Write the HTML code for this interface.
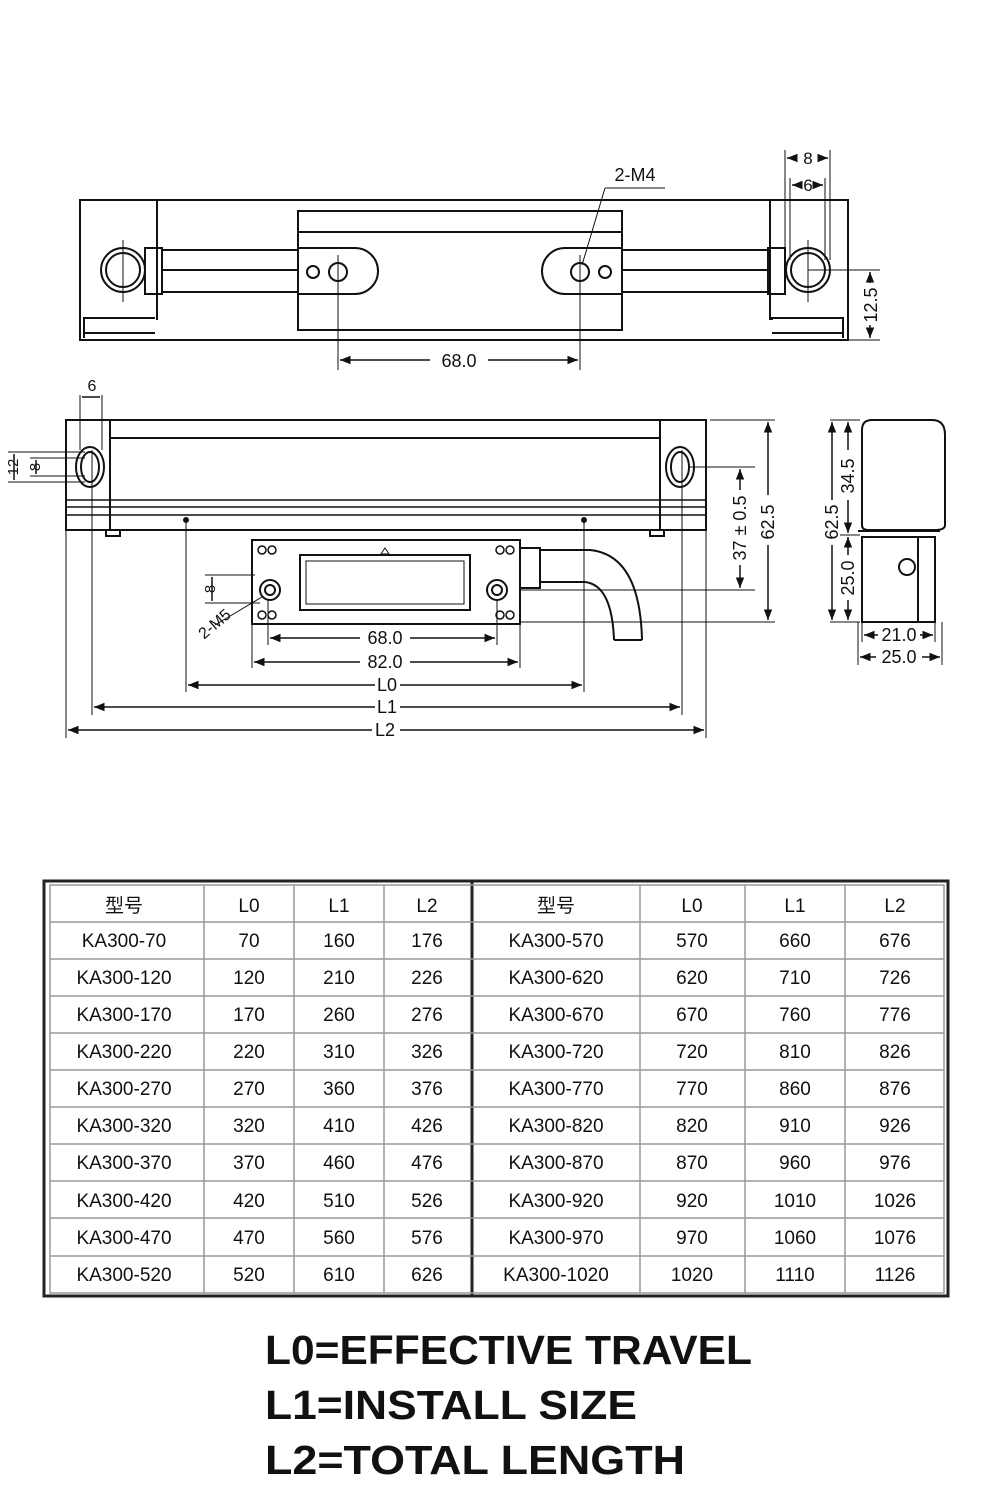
<!DOCTYPE html>
<html><head><meta charset="utf-8"><style>
html,body{margin:0;padding:0;background:#fff;}
svg{display:block;}
text{font-family:"Liberation Sans","Noto Sans CJK SC",sans-serif;fill:#111;}
</style></head><body>
<svg width="1000" height="1500" viewBox="0 0 1000 1500" xmlns="http://www.w3.org/2000/svg">
<defs>
<marker id="a" viewBox="0 0 10 10" refX="10" refY="5" markerWidth="7" markerHeight="7" orient="auto-start-reverse"><path d="M0,1 L10,5 L0,9 z" fill="#111"/></marker>
</defs>
<g stroke="#111" fill="none" stroke-width="2">
<!-- TOP VIEW -->
<rect x="80" y="200" width="768" height="140"/>
<line x1="157" y1="200" x2="157" y2="320"/>
<line x1="770" y1="200" x2="770" y2="320"/>
<path d="M84 338 V318 H155 M85 333 H155"/>
<path d="M772 320 V318 H843 V338 M772 333 H843"/>
<rect x="298" y="211" width="324" height="119"/>
<line x1="298" y1="232" x2="622" y2="232"/>
<rect x="145" y="248" width="17" height="46"/>
<rect x="768" y="248" width="17" height="46"/>
<path d="M162 250 H298 M162 270 H298 M162 292 H298"/>
<path d="M622 250 H768 M622 270 H768 M622 292 H768"/>
<path d="M298 248 H355 A22 22 0 0 1 355 294 H298"/>
<path d="M622 248 H565 A22 22 0 0 0 565 294 H622"/>
<circle cx="123" cy="270" r="22"/><circle cx="123" cy="270" r="17"/>
<circle cx="808" cy="270" r="22"/><circle cx="808" cy="270" r="17"/>
<circle cx="313" cy="272" r="6"/><circle cx="338" cy="272" r="9"/>
<circle cx="580" cy="272" r="9"/><circle cx="605" cy="272" r="6"/>
<g stroke-width="1"><line x1="338" y1="255" x2="338" y2="370"/><line x1="580" y1="255" x2="580" y2="370"/>
<line x1="123" y1="240" x2="123" y2="302"/><line x1="808" y1="240" x2="808" y2="302"/>
<line x1="808" y1="270" x2="880" y2="270"/><line x1="848" y1="340" x2="880" y2="340"/>
<line x1="785" y1="150" x2="785" y2="260"/><line x1="830" y1="150" x2="830" y2="260"/><line x1="790" y1="178" x2="790" y2="260"/><line x1="825" y1="178" x2="825" y2="260"/>
<line x1="582" y1="265" x2="605" y2="188"/><line x1="605" y1="188" x2="665" y2="188"/></g>
<g stroke-width="1.5">
<line x1="340" y1="360" x2="430" y2="360" marker-start="url(#a)"/><line x1="488" y1="360" x2="578" y2="360" marker-end="url(#a)"/>
<line x1="870" y1="272" x2="870" y2="283" marker-start="url(#a)"/><line x1="870" y1="325" x2="870" y2="338" marker-end="url(#a)"/>
<line x1="787" y1="158" x2="797" y2="158" marker-start="url(#a)"/><line x1="818" y1="158" x2="828" y2="158" marker-end="url(#a)"/>
<line x1="792" y1="185" x2="798" y2="185" marker-start="url(#a)"/><line x1="815" y1="185" x2="823" y2="185" marker-end="url(#a)"/>
</g>
<!-- FRONT VIEW -->
<rect x="66" y="420" width="640" height="110"/>
<line x1="110" y1="420" x2="110" y2="530"/><line x1="660" y1="420" x2="660" y2="530"/>
<line x1="110" y1="438" x2="660" y2="438"/>
<path d="M66 500 H706 M66 507 H706 M66 515 H706" stroke-width="1.5"/>
<ellipse cx="90" cy="467" rx="14" ry="20"/><ellipse cx="90" cy="467" rx="9" ry="15"/>
<ellipse cx="680" cy="467" rx="14" ry="20"/><ellipse cx="680" cy="467" rx="9" ry="15"/>
<rect x="106" y="530" width="14" height="6"/><rect x="650" y="530" width="14" height="6"/>
<rect x="252" y="540" width="268" height="84"/>
<rect x="300" y="555" width="170" height="55"/><rect x="306" y="561" width="158" height="43" stroke-width="1"/>
<circle cx="270" cy="590" r="10"/><circle cx="270" cy="590" r="5"/>
<circle cx="497" cy="590" r="10"/><circle cx="497" cy="590" r="5"/>
<g stroke-width="1.5"><circle cx="262" cy="550" r="4"/><circle cx="272" cy="550" r="4"/><circle cx="500" cy="550" r="4"/><circle cx="510" cy="550" r="4"/>
<circle cx="262" cy="615" r="4"/><circle cx="272" cy="615" r="4"/><circle cx="500" cy="615" r="4"/><circle cx="510" cy="615" r="4"/></g>
<path d="M385 548 L381 554 H389 Z" stroke-width="1"/>
<rect x="520" y="548" width="20" height="40"/>
<path d="M540 550 H590 Q640 555 642 640 M540 582 H585 Q612 585 614 640 M614 640 H642"/>
<circle cx="186" cy="520" r="2" fill="#111"/><circle cx="584" cy="520" r="2" fill="#111"/>
<g stroke-width="1">
<line x1="186" y1="520" x2="186" y2="692"/><line x1="584" y1="520" x2="584" y2="692"/>
<line x1="92" y1="450" x2="92" y2="715"/><line x1="682" y1="450" x2="682" y2="715"/>
<line x1="66" y1="530" x2="66" y2="738"/><line x1="706" y1="530" x2="706" y2="738"/>
<line x1="268" y1="600" x2="268" y2="645"/><line x1="497" y1="600" x2="497" y2="645"/>
<line x1="252" y1="624" x2="252" y2="668"/><line x1="520" y1="624" x2="520" y2="668"/>
<line x1="710" y1="420" x2="775" y2="420"/><line x1="520" y1="622" x2="775" y2="622"/>
<line x1="690" y1="467" x2="755" y2="467"/><line x1="520" y1="590" x2="755" y2="590"/>
<line x1="80" y1="395" x2="80" y2="450"/><line x1="102" y1="395" x2="102" y2="450"/>
<line x1="8" y1="452" x2="85" y2="452"/><line x1="8" y1="482" x2="85" y2="482"/><line x1="30" y1="458" x2="85" y2="458"/><line x1="30" y1="476" x2="85" y2="476"/>
<line x1="205" y1="575" x2="255" y2="575"/><line x1="205" y1="603" x2="260" y2="603"/>
<line x1="215" y1="625" x2="262" y2="597"/>
<line x1="830" y1="420" x2="860" y2="420"/><line x1="830" y1="622" x2="860" y2="622"/><line x1="840" y1="535" x2="860" y2="535"/>
<line x1="858" y1="622" x2="858" y2="665"/><line x1="942" y1="622" x2="942" y2="665"/><line x1="862" y1="622" x2="862" y2="642"/><line x1="935" y1="622" x2="935" y2="642"/>
</g>
<g stroke-width="1.5">
<line x1="270" y1="638" x2="360" y2="638" marker-start="url(#a)"/><line x1="410" y1="638" x2="495" y2="638" marker-end="url(#a)"/>
<line x1="254" y1="662" x2="360" y2="662" marker-start="url(#a)"/><line x1="410" y1="662" x2="518" y2="662" marker-end="url(#a)"/>
<line x1="188" y1="685" x2="375" y2="685" marker-start="url(#a)"/><line x1="400" y1="685" x2="582" y2="685" marker-end="url(#a)"/>
<line x1="94" y1="707" x2="375" y2="707" marker-start="url(#a)"/><line x1="400" y1="707" x2="680" y2="707" marker-end="url(#a)"/>
<line x1="68" y1="730" x2="372" y2="730" marker-start="url(#a)"/><line x1="400" y1="730" x2="704" y2="730" marker-end="url(#a)"/>
<line x1="768" y1="422" x2="768" y2="495" marker-start="url(#a)"/><line x1="768" y1="545" x2="768" y2="620" marker-end="url(#a)"/>
<line x1="740" y1="469" x2="740" y2="490" marker-start="url(#a)"/><line x1="740" y1="565" x2="740" y2="588" marker-end="url(#a)"/>
<line x1="82" y1="397" x2="82" y2="397"/>
<line x1="82" y1="397" x2="100" y2="397"/>
<line x1="14" y1="454" x2="14" y2="480"/><line x1="36" y1="460" x2="36" y2="474"/>
<line x1="212" y1="577" x2="212" y2="601"/>
<line x1="832" y1="422" x2="832" y2="500" marker-start="url(#a)"/><line x1="832" y1="545" x2="832" y2="620" marker-end="url(#a)"/>
<line x1="848" y1="422" x2="848" y2="450" marker-start="url(#a)"/><line x1="848" y1="500" x2="848" y2="533" marker-end="url(#a)"/>
<line x1="848" y1="537" x2="848" y2="555" marker-start="url(#a)"/><line x1="848" y1="600" x2="848" y2="620" marker-end="url(#a)"/>
<line x1="864" y1="635" x2="878" y2="635" marker-start="url(#a)"/><line x1="920" y1="635" x2="933" y2="635" marker-end="url(#a)"/>
<line x1="860" y1="657" x2="876" y2="657" marker-start="url(#a)"/><line x1="922" y1="657" x2="940" y2="657" marker-end="url(#a)"/>
</g>
<!-- SIDE VIEW -->
<path d="M862 430 Q862 420 872 420 H932 Q945 420 945 435 V525 Q945 530 935 530 H868 Q862 530 862 525 Z"/>
<line x1="858" y1="531" x2="940" y2="531"/>
<rect x="862" y="537" width="73" height="85"/>
<line x1="918" y1="537" x2="918" y2="622"/>
<circle cx="907" cy="567" r="8"/>
</g>
<g font-size="18" text-anchor="middle">
<text x="635" y="181">2-M4</text>
<text x="459" y="367">68.0</text>
<text x="808" y="164" font-size="17">8</text>
<text x="808" y="191" font-size="17">6</text>
<text transform="translate(877,305) rotate(-90)">12.5</text>
<text x="92" y="391" font-size="16">6</text>
<text x="385" y="644">68.0</text>
<text x="385" y="668">82.0</text>
<text x="387" y="691">L0</text>
<text x="387" y="713">L1</text>
<text x="385" y="736">L2</text>
<text transform="translate(774,522) rotate(-90)">62.5</text>
<text transform="translate(746,528) rotate(-90)">37 ± 0.5</text>
<text transform="translate(18,467) rotate(-90)" font-size="15">12</text>
<text transform="translate(40,467) rotate(-90)" font-size="15">8</text>
<text transform="translate(215,589) rotate(-90)" font-size="15">8</text>
<text transform="translate(218,628) rotate(-40)" font-size="16">2-M5</text>
<text transform="translate(838,522) rotate(-90)">62.5</text>
<text transform="translate(854,476) rotate(-90)">34.5</text>
<text transform="translate(854,578) rotate(-90)">25.0</text>
<text x="899" y="641">21.0</text>
<text x="899" y="663">25.0</text>
</g>
<!-- TABLE -->
<g stroke="#222" fill="none">
<rect x="44" y="881" width="904" height="415" stroke-width="3"/>
<line x1="472" y1="881" x2="472" y2="1296" stroke-width="3"/>
<g stroke="#999" stroke-width="1.5">
<line x1="204" y1="885" x2="204" y2="1293"/><line x1="294" y1="885" x2="294" y2="1293"/><line x1="384" y1="885" x2="384" y2="1293"/>
<line x1="640" y1="885" x2="640" y2="1293"/><line x1="745" y1="885" x2="745" y2="1293"/><line x1="845" y1="885" x2="845" y2="1293"/>
<line x1="50" y1="922" x2="944" y2="922"/><line x1="50" y1="959" x2="944" y2="959"/><line x1="50" y1="996" x2="944" y2="996"/><line x1="50" y1="1033" x2="944" y2="1033"/><line x1="50" y1="1070" x2="944" y2="1070"/><line x1="50" y1="1107" x2="944" y2="1107"/><line x1="50" y1="1144" x2="944" y2="1144"/><line x1="50" y1="1181" x2="944" y2="1181"/><line x1="50" y1="1218" x2="944" y2="1218"/><line x1="50" y1="1256" x2="944" y2="1256"/>
<rect x="50" y="885" width="894" height="408"/>
</g></g>
<g font-size="19" text-anchor="middle">
<text x="124" y="912">型号</text><text x="249" y="912">L0</text><text x="339" y="912">L1</text><text x="427" y="912">L2</text>
<text x="556" y="912">型号</text><text x="692" y="912">L0</text><text x="795" y="912">L1</text><text x="895" y="912">L2</text>
</g>
<g font-size="19" text-anchor="middle">
<text x="124" y="947">KA300-70</text><text x="249" y="947">70</text><text x="339" y="947">160</text><text x="427" y="947">176</text><text x="556" y="947">KA300-570</text><text x="692" y="947">570</text><text x="795" y="947">660</text><text x="895" y="947">676</text>
<text x="124" y="984">KA300-120</text><text x="249" y="984">120</text><text x="339" y="984">210</text><text x="427" y="984">226</text><text x="556" y="984">KA300-620</text><text x="692" y="984">620</text><text x="795" y="984">710</text><text x="895" y="984">726</text>
<text x="124" y="1021">KA300-170</text><text x="249" y="1021">170</text><text x="339" y="1021">260</text><text x="427" y="1021">276</text><text x="556" y="1021">KA300-670</text><text x="692" y="1021">670</text><text x="795" y="1021">760</text><text x="895" y="1021">776</text>
<text x="124" y="1058">KA300-220</text><text x="249" y="1058">220</text><text x="339" y="1058">310</text><text x="427" y="1058">326</text><text x="556" y="1058">KA300-720</text><text x="692" y="1058">720</text><text x="795" y="1058">810</text><text x="895" y="1058">826</text>
<text x="124" y="1095">KA300-270</text><text x="249" y="1095">270</text><text x="339" y="1095">360</text><text x="427" y="1095">376</text><text x="556" y="1095">KA300-770</text><text x="692" y="1095">770</text><text x="795" y="1095">860</text><text x="895" y="1095">876</text>
<text x="124" y="1132">KA300-320</text><text x="249" y="1132">320</text><text x="339" y="1132">410</text><text x="427" y="1132">426</text><text x="556" y="1132">KA300-820</text><text x="692" y="1132">820</text><text x="795" y="1132">910</text><text x="895" y="1132">926</text>
<text x="124" y="1169">KA300-370</text><text x="249" y="1169">370</text><text x="339" y="1169">460</text><text x="427" y="1169">476</text><text x="556" y="1169">KA300-870</text><text x="692" y="1169">870</text><text x="795" y="1169">960</text><text x="895" y="1169">976</text>
<text x="124" y="1207">KA300-420</text><text x="249" y="1207">420</text><text x="339" y="1207">510</text><text x="427" y="1207">526</text><text x="556" y="1207">KA300-920</text><text x="692" y="1207">920</text><text x="795" y="1207">1010</text><text x="895" y="1207">1026</text>
<text x="124" y="1244">KA300-470</text><text x="249" y="1244">470</text><text x="339" y="1244">560</text><text x="427" y="1244">576</text><text x="556" y="1244">KA300-970</text><text x="692" y="1244">970</text><text x="795" y="1244">1060</text><text x="895" y="1244">1076</text>
<text x="124" y="1281">KA300-520</text><text x="249" y="1281">520</text><text x="339" y="1281">610</text><text x="427" y="1281">626</text><text x="556" y="1281">KA300-1020</text><text x="692" y="1281">1020</text><text x="795" y="1281">1110</text><text x="895" y="1281">1126</text>
</g>
<g font-size="41" font-weight="bold">
<text x="265" y="1364" textLength="487" lengthAdjust="spacingAndGlyphs">L0=EFFECTIVE TRAVEL</text>
<text x="265" y="1419" textLength="372" lengthAdjust="spacingAndGlyphs">L1=INSTALL SIZE</text>
<text x="265" y="1474" textLength="420" lengthAdjust="spacingAndGlyphs">L2=TOTAL LENGTH</text>
</g>
</svg>
</body></html>
